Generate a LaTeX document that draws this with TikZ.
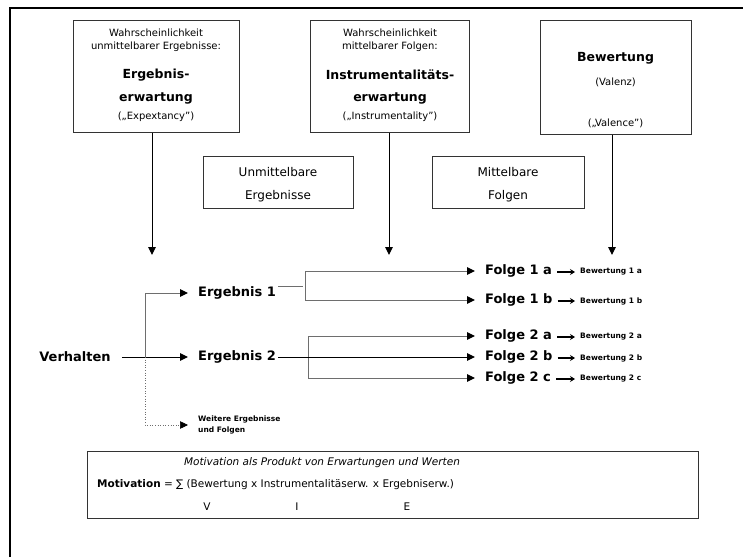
\documentclass[tikz,border=0pt]{standalone}
\usepackage{fontspec}
\setmainfont{DejaVu Sans}
\usetikzlibrary{arrows.meta}
\definecolor{boxc}{HTML}{333333}
\definecolor{linec}{HTML}{6E6E6E}
\tikzset{
  frame/.style={draw=boxc, line width=1pt, fill=white, inner sep=0pt},
  txt/.style={inner sep=0pt, font=\fontsize{10}{12}\selectfont},
  big/.style={inner sep=0pt, font=\fontsize{12.5}{14}\selectfont\bfseries},
  lbl/.style={inner sep=0pt, anchor=west, font=\fontsize{13}{15}\selectfont\bfseries},
  small/.style={inner sep=0pt, anchor=west, font=\fontsize{7.5}{9}\selectfont\bfseries},
  tip/.style={-{Triangle[length=8pt,width=7.5pt,color=black]}},
  garr/.style={tip, draw=linec, line width=1pt},
  barr/.style={tip, draw=black, line width=1pt},
}
\begin{document}
\begin{tikzpicture}[x=1pt,y=-1pt]
\useasboundingbox[fill=white] (0,0) rectangle (743,557);
\draw[line width=2pt] (10,557) -- (10,8) -- (743,8);

% top boxes
\node[frame, minimum width=166, minimum height=112] (b1) at (156,76) {};
\node[frame, minimum width=159, minimum height=112] (b2) at (389.5,76) {};
\node[frame, minimum width=151, minimum height=114] (b3) at (615.5,77) {};
\node[frame, minimum width=150, minimum height=52] (u) at (278,182) {};
\node[frame, minimum width=152, minimum height=52] (m) at (508,182) {};

\node[txt] (b1t1) at (156,33) {Wahrscheinlichkeit};
\node[txt] (b1t2) at (156,47) {unmittelbarer Ergebnisse:};
\node[big] (b1t3) at (156,75) {Ergebnis-};
\node[big] (b1t4) at (156,98) {erwartung};
\node[txt] (b1t5) at (156,117) {(„Expextancy")};

\node[txt] (b2t1) at (390,33) {Wahrscheinlichkeit};
\node[txt] (b2t2) at (390,47) {mittelbarer Folgen:};
\node[big] (b2t3) at (390,75) {Instrumentalitäts-};
\node[big] (b2t4) at (390,98) {erwartung};
\node[txt] (b2t5) at (390,117) {(„Instrumentality")};

\node[big] (b3t1) at (615.5,58) {Bewertung};
\node[txt] (b3t2) at (615.5,82) {(Valenz)};
\node[txt] (b3t3) at (615.5,123) {(„Valence")};

\node[txt, font=\fontsize{12}{14}\selectfont] (ut1) at (278,172) {Unmittelbare};
\node[txt, font=\fontsize{12}{14}\selectfont] (ut2) at (278,196) {Ergebnisse};
\node[txt, font=\fontsize{12}{14}\selectfont] (mt1) at (508,172) {Mittelbare};
\node[txt, font=\fontsize{12}{14}\selectfont] (mt2) at (508,196) {Folgen};

% down arrows
\coordinate (d1) at (152,255);
\coordinate (d2) at (389,255);
\coordinate (d3) at (612,255);
\draw[barr] (d1 |- b1.south) -- (d1);
\draw[barr] (d2 |- b2.south) -- (d2);
\draw[barr] (d3 |- b3.south) -- (d3);

% left part
\node[lbl, anchor=center] (v) at (75,357) {Verhalten};
\node[lbl] (e1) at (198,293) {Ergebnis 1};
\node[lbl] (e2) at (198,357) {Ergebnis 2};
\node[small, align=left, font=\fontsize{7.5}{11}\selectfont\bfseries] (w) at (198,425) {Weitere Ergebnisse\\und Folgen};

\coordinate (j1) at (145,357);
\draw[barr, shorten <=11pt, shorten >=10pt] (v.east) -- (e2.west);
\draw[garr, shorten >=10pt] (j1) |- (e1.west);
\draw[tip, draw=linec, line width=0.6pt, dotted] (j1) |- ([xshift=-10pt]w.west);

% Folgen
\node[lbl] (f1a) at (485,271) {Folge 1 a};
\node[lbl] (f1b) at (485,300) {Folge 1 b};
\node[lbl] (f2a) at (485,336) {Folge 2 a};
\node[lbl] (f2b) at (485,357) {Folge 2 b};
\node[lbl] (f2c) at (485,378) {Folge 2 c};

\node[small] (v1a) at (580,272) {Bewertung 1 a};
\node[small] (v1b) at (580,301) {Bewertung 1 b};
\node[small] (v2a) at (580,337) {Bewertung 2 a};
\node[small] (v2b) at (580,358) {Bewertung 2 b};
\node[small] (v2c) at (580,379) {Bewertung 2 c};

\foreach \a/\b in {f1a/v1a,f1b/v1b,f2a/v2a,f2b/v2b,f2c/v2c}{
  \draw[-{Stealth[length=5pt,width=6pt]}, line width=1.6pt, shorten <=5pt, shorten >=5pt] (\a.east |- \b.west) -- (\b.west);
}

% Ergebnis 1 branch
\coordinate (k1) at (305,286);
\coordinate (k1a) at (305,271);
\coordinate (k1b) at (305,300);
\draw[draw=linec, line width=1pt] ([xshift=2pt]e1.east |- k1) -- ([xshift=-2pt]k1);
\draw[draw=linec, line width=1pt] (k1a) -- (k1b);
\draw[garr, shorten >=10pt] (k1a) -- (f1a.west);
\draw[garr, shorten >=10pt] (k1b) -- (f1b.west);

% Ergebnis 2 branch
\coordinate (k2a) at (308,336);
\coordinate (k2c) at (308,378);
\draw[draw=linec, line width=1pt] (k2a) -- (k2c);
\draw[barr, shorten <=2pt, shorten >=10pt] (e2.east) -- (f2b.west);
\draw[garr, shorten >=10pt] (k2a) -- (f2a.west);
\draw[garr, shorten >=10pt] (k2c) -- (f2c.west);

% formula box
\node[frame, minimum width=611, minimum height=67] (fb) at (392.5,484.5) {};
\node[txt, font=\fontsize{10.5}{12}\selectfont\itshape] (ft1) at (322,463) {Motivation als Produkt von Erwartungen und Werten};
\node[txt, anchor=west, font=\fontsize{10.5}{12}\selectfont] (ft2) at (97,485) {\textbf{Motivation} = ∑ (Bewertung x Instrumentalitäserw. x Ergebniserw.)};
\node[txt, font=\fontsize{10.5}{12}\selectfont] (fv) at (207,507) {V};
\node[txt, font=\fontsize{10.5}{12}\selectfont] (fi) at (297,507) {I};
\node[txt, font=\fontsize{10.5}{12}\selectfont] (fe) at (407,507) {E};
\end{tikzpicture}
\end{document}
